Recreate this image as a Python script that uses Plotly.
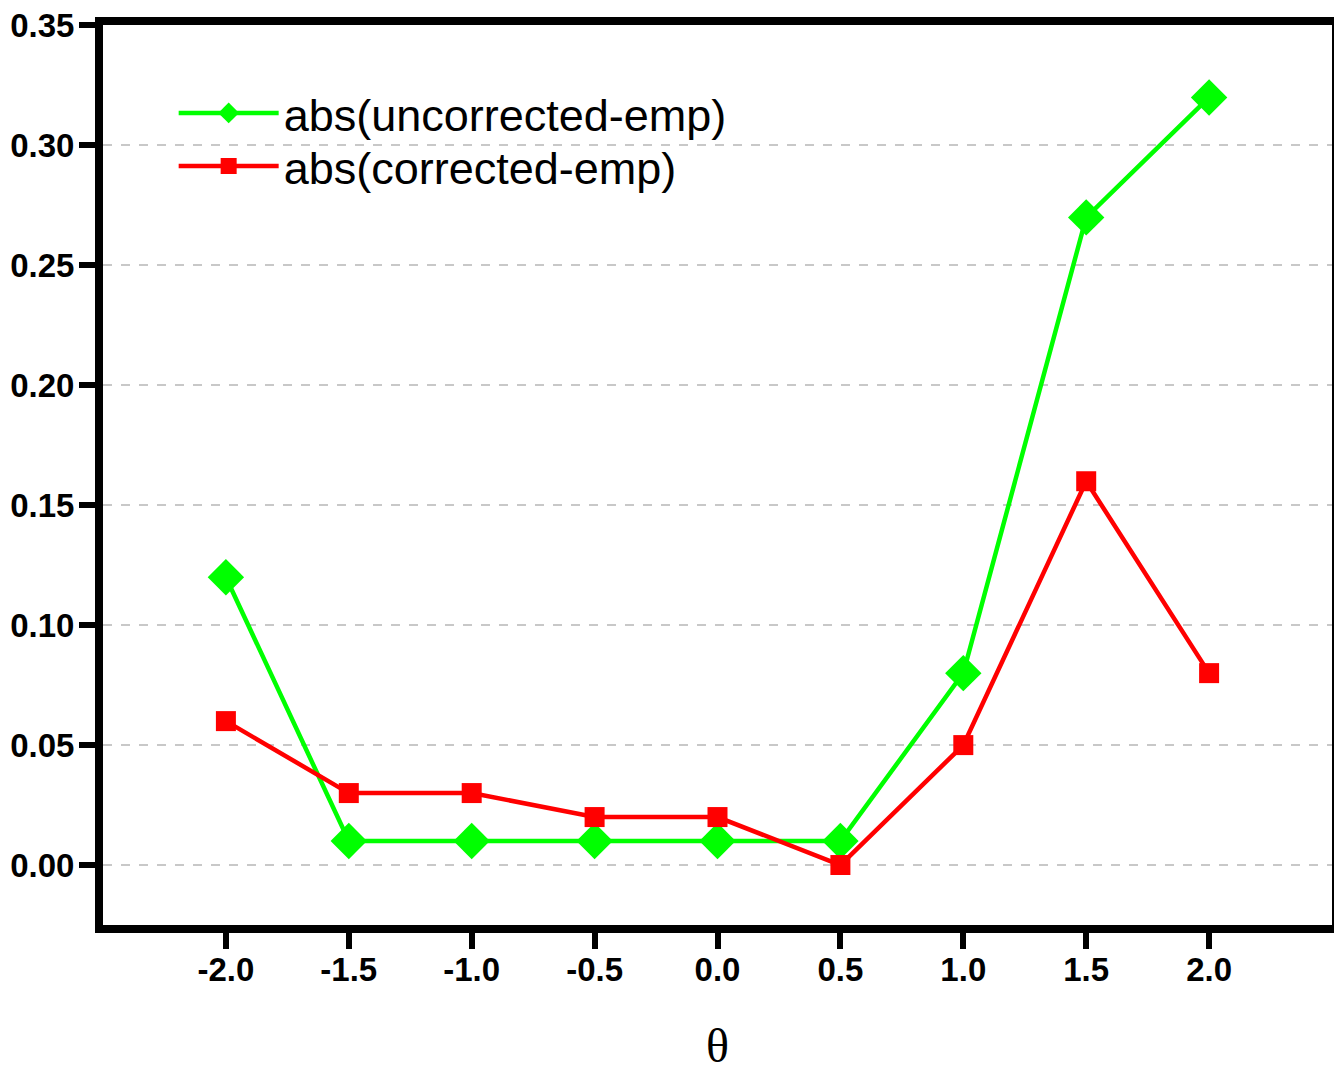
import plotly.graph_objects as go

theta = [-2.0, -1.5, -1.0, -0.5, 0.0, 0.5, 1.0, 1.5, 2.0]
uncorrected = [0.12, 0.01, 0.01, 0.01, 0.01, 0.01, 0.08, 0.27, 0.32]
corrected = [0.06, 0.03, 0.03, 0.02, 0.02, 0.00, 0.05, 0.16, 0.08]
x_ticks = [-2.0, -1.5, -1.0, -0.5, 0.0, 0.5, 1.0, 1.5, 2.0]
y_ticks = [0.0, 0.05, 0.10, 0.15, 0.20, 0.25, 0.30, 0.35]

fig = go.Figure()
fig.add_trace(go.Scatter(
    x=theta, y=uncorrected, mode="lines+markers", name="abs(uncorrected-emp)",
    line=dict(color="#00ff00", width=4.5),
    marker=dict(symbol="diamond", size=28, color="#00ff00"),
    legend="legend",
))
fig.add_trace(go.Scatter(
    x=theta, y=corrected, mode="lines+markers", name="abs(corrected-emp)",
    line=dict(color="#ff0000", width=4.5),
    marker=dict(symbol="square", size=20, color="#ff0000"),
    legend="legend2",
))

leg_common = dict(
    xanchor="left", yanchor="middle",
    font=dict(size=45, family="Liberation Sans, Arial"),
    bgcolor="rgba(0,0,0,0)", itemwidth=100,
)

# the page body adds an 8px margin, so the figure is sized to fit inside it
fig.update_layout(
    width=1334, height=1064,
    showlegend=True,
    margin=dict(l=95, r=10, t=17, b=147, autoexpand=False),
    plot_bgcolor="white", paper_bgcolor="white",
    font=dict(family="Liberation Sans, Arial", color="black"),
    legend=dict(x=0.0575, y=0.902, **leg_common),
    legend2=dict(x=0.0575, y=0.843, **leg_common),
    xaxis=dict(
        range=[-2.5, 2.5], tickvals=x_ticks,
        ticktext=[f"{v:.1f}" for v in x_ticks],
        showgrid=False, zeroline=False,
        showline=True, linewidth=8, linecolor="black", mirror=True,
        ticks="outside", ticklen=16, tickwidth=6, tickcolor="black",
        ticklabelstandoff=-8,
        tickfont=dict(size=33, weight="bold"),
        title=dict(text="θ", font=dict(size=48, family="Liberation Serif, Times New Roman"), standoff=51),
    ),
    yaxis=dict(
        range=[-0.025, 0.3502], tickvals=y_ticks,
        ticktext=[f"{v:.2f}" for v in y_ticks],
        showgrid=True, gridcolor="#c8c8c8", griddash="dash", gridwidth=1.5,
        zeroline=False,
        showline=True, linewidth=8, linecolor="black", mirror=True,
        ticks="outside", ticklen=16, tickwidth=6, tickcolor="black",
        ticklabelstandoff=-2, ticklabeloverflow="allow",
        tickfont=dict(size=33, weight="bold"),
    ),
)

fig.write_html("out.html")
